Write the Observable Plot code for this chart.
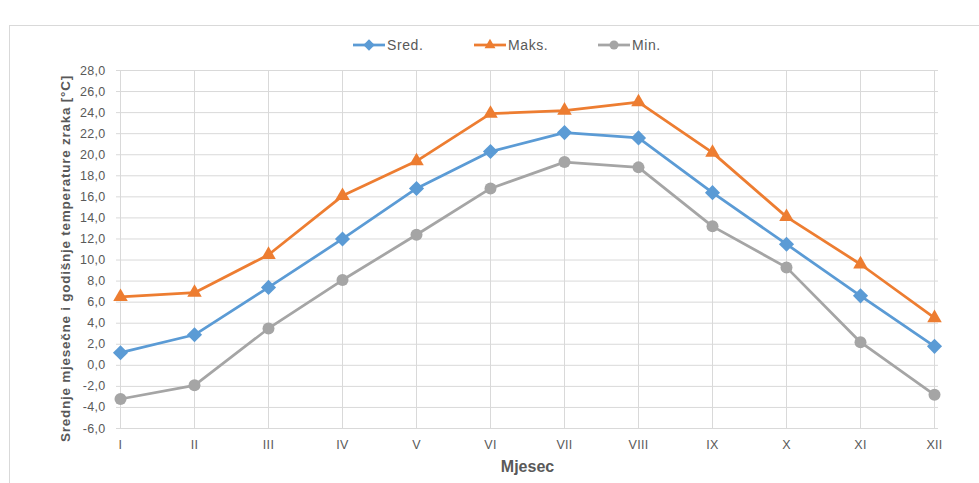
<!DOCTYPE html>
<html>
<head>
<meta charset="utf-8">
<script src="https://cdn.jsdelivr.net/npm/d3@7"></script>
<script src="https://cdn.jsdelivr.net/npm/@observablehq/plot@0.6"></script>
<style>
  html, body { margin: 0; padding: 0; background: #fff; }
  #wrap { position: relative; width: 979px; height: 483px; overflow: hidden; font-family: "Liberation Sans", Arial, sans-serif; }
  #frame { position: absolute; left: 9px; top: 25px; width: 1000px; height: 500px; border: 1px solid #d9d9d9; box-sizing: border-box; }
  #legend { position: absolute; top: 36px; left: 0; width: 979px; height: 18px; }
  .item { position: absolute; top: 0; display: flex; align-items: center; height: 18px; font-size: 14px; letter-spacing: 0.6px; color: #595959; }
  .item svg { display: block; margin-right: 2px; }
  #chart { position: absolute; left: 0; top: 0; }
</style>
</head>
<body>
<div id="wrap">
  <div id="frame"></div>
  <div id="legend"></div>
  <div id="chart"></div>
</div>
<script>
const months = ["I","II","III","IV","V","VI","VII","VIII","IX","X","XI","XII"];
const seriesNames = ["Sred.", "Maks.", "Min."];
const sred = [1.2, 2.9, 7.4, 12.0, 16.8, 20.3, 22.1, 21.6, 16.4, 11.5, 6.6, 1.8];
const maks = [6.5, 6.9, 10.5, 16.1, 19.4, 23.9, 24.2, 25.0, 20.2, 14.1, 9.6, 4.5];
const min  = [-3.2, -1.9, 3.5, 8.1, 12.4, 16.8, 19.3, 18.8, 13.2, 9.3, 2.2, -2.8];
const yTicks = [-6, -4, -2, 0, 2, 4, 6, 8, 10, 12, 14, 16, 18, 20, 22, 24, 26, 28];
const yTitle = "Srednje mjesečne i godišnje temperature zraka [°C]";
const xTitle = "Mjesec";

const colors = ["#5B9BD5", "#ED7D31", "#A5A5A5"];
const symbols = ["diamond2", "triangle", "circle"];
const radii = [6.8, 5.4, 6];

const seriesValues = [sred, maks, min];
const data = [];
seriesNames.forEach((s, i) => months.forEach((m, j) => data.push({series: s, month: m, value: seriesValues[i][j]})));

const fmt = d => d.toFixed(1).replace(".", ",");

const marks = [
  Plot.gridY(yTicks, {stroke: "#d9d9d9", strokeOpacity: 1, strokeWidth: 1}),
  Plot.gridX(months, {stroke: "#d9d9d9", strokeOpacity: 1, strokeWidth: 1}),
  Plot.axisY(yTicks, {tickSize: 0, tickPadding: 11, tickFormat: fmt, label: null, fontSize: 12.5}),
  Plot.axisX(months, {tickSize: 0, tickPadding: 12, label: null, fontSize: 12.5}),
  Plot.text([yTitle], {frameAnchor: "left", textAnchor: "middle", dx: -51, dy: 9, rotate: -90, fontWeight: "bold", fontSize: 13.5, fill: "#595959"}),
  Plot.text([xTitle], {frameAnchor: "bottom", dy: 43, fontWeight: "bold", fontSize: 16, fill: "#595959"})
];
seriesNames.forEach((s, i) => {
  const d = data.filter(r => r.series === s);
  marks.push(Plot.line(d, {x: "month", y: "value", stroke: colors[i], strokeWidth: 2.75}));
});
seriesNames.forEach((s, i) => {
  const d = data.filter(r => r.series === s);
  marks.push(Plot.dot(d, {x: "month", y: "value", fill: colors[i], symbol: () => symbols[i], r: radii[i], stroke: "none"}));
});

const chart = Plot.plot({
  width: 979,
  height: 483,
  marginLeft: 116,
  marginRight: 41,
  marginTop: 70,
  marginBottom: 55,
  style: {fontFamily: "'Liberation Sans', Arial, sans-serif", fontSize: "12px", color: "#595959", background: "transparent"},
  x: {type: "point", domain: months, padding: 0},
  y: {domain: [-6, 28]},
  symbol: {type: "identity"},
  marks
});
d3.select(chart).selectAll("text").filter(function() { return this.textContent === yTitle; }).style("letter-spacing", "0.75px");
d3.select(chart).selectAll("g[aria-label='y-axis tick label'] text, g[aria-label='x-axis tick label'] text").style("letter-spacing", "0.3px");
document.getElementById("chart").appendChild(chart);

// legend
const legendPos = [353, 474, 598];
const legend = document.getElementById("legend");
seriesNames.forEach((s, i) => {
  const div = document.createElement("div");
  div.className = "item";
  div.style.left = legendPos[i] + "px";
  const sym = d3.symbol(
    symbols[i] === "diamond2" ? d3.symbolDiamond2 : symbols[i] === "triangle" ? d3.symbolTriangle : d3.symbolCircle,
    Math.PI * (radii[i] * 0.75) ** 2
  )();
  div.innerHTML = `<svg width="32" height="18"><line x1="0" x2="32" y1="9" y2="9" stroke="${colors[i]}" stroke-width="2.75"/><path d="${sym}" transform="translate(16,9)" fill="${colors[i]}"/></svg><span>${s}</span>`;
  legend.appendChild(div);
});
</script>
</body>
</html>
